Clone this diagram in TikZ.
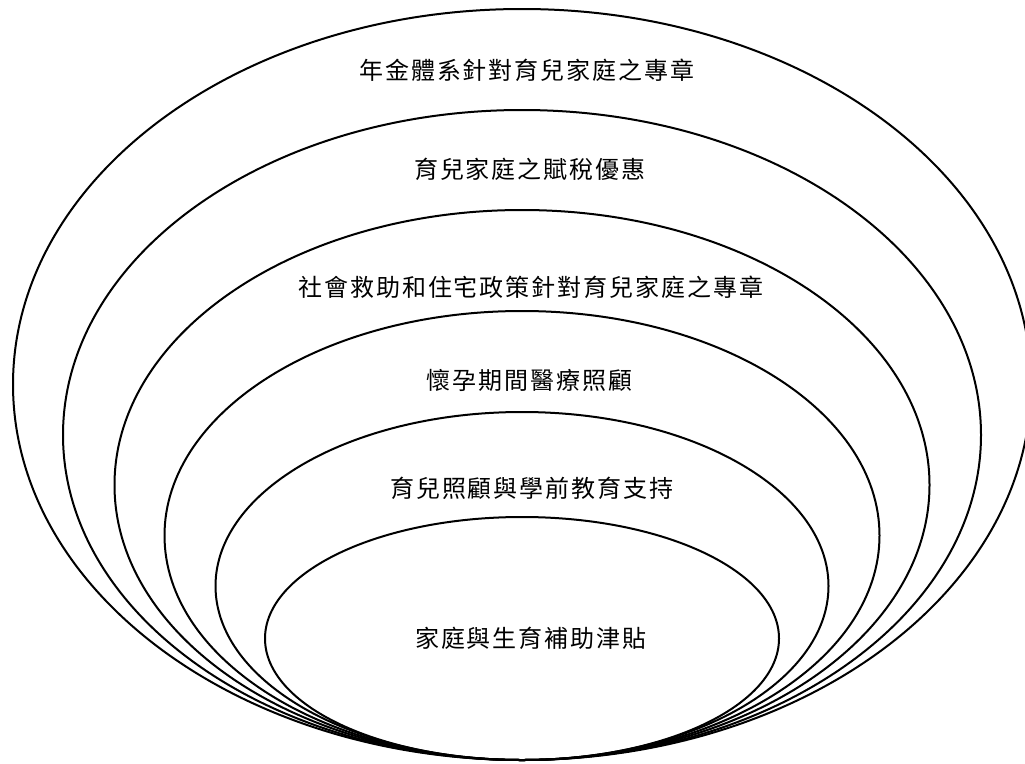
\documentclass[tikz,border=0pt]{standalone}
\usepackage{fontspec}
\newfontfamily\cjk{Noto Sans CJK TC}[LetterSpace=8.3]
\begin{document}
\begin{tikzpicture}[x=1pt,y=-1pt]
      \tikzstyle ring=[color=black, line width=2pt]
      \tikzstyle layertext=[font=\cjk\fontsize{24}{28}\selectfont, inner sep=0pt]
      \useasboundingbox (0,0) rectangle (1025,763);
      % nested layers, all touching at the bottom
      \foreach \rx/\ry in {509/375.5, 459/325, 407.5/275, 357.5/224.5, 306.5/174, 257/121.5}
        \draw [ring] (522,760-\ry) ellipse ({\rx} and {\ry});
      \draw node (pension) [layertext] at (527,70) {年金體系針對育兒家庭之專章};
      \draw node (tax) [layertext] at (530,169) {育兒家庭之賦稅優惠};
      \draw node (assist) [layertext] at (531,287) {社會救助和住宅政策針對育兒家庭之專章};
      \draw node (medical) [layertext] at (529.5,380) {懷孕期間醫療照顧};
      \draw node (childcare) [layertext] at (532,488) {育兒照顧與學前教育支持};
      \draw node (allowance) [layertext] at (531,638) {家庭與生育補助津貼};
\end{tikzpicture}
\end{document}
